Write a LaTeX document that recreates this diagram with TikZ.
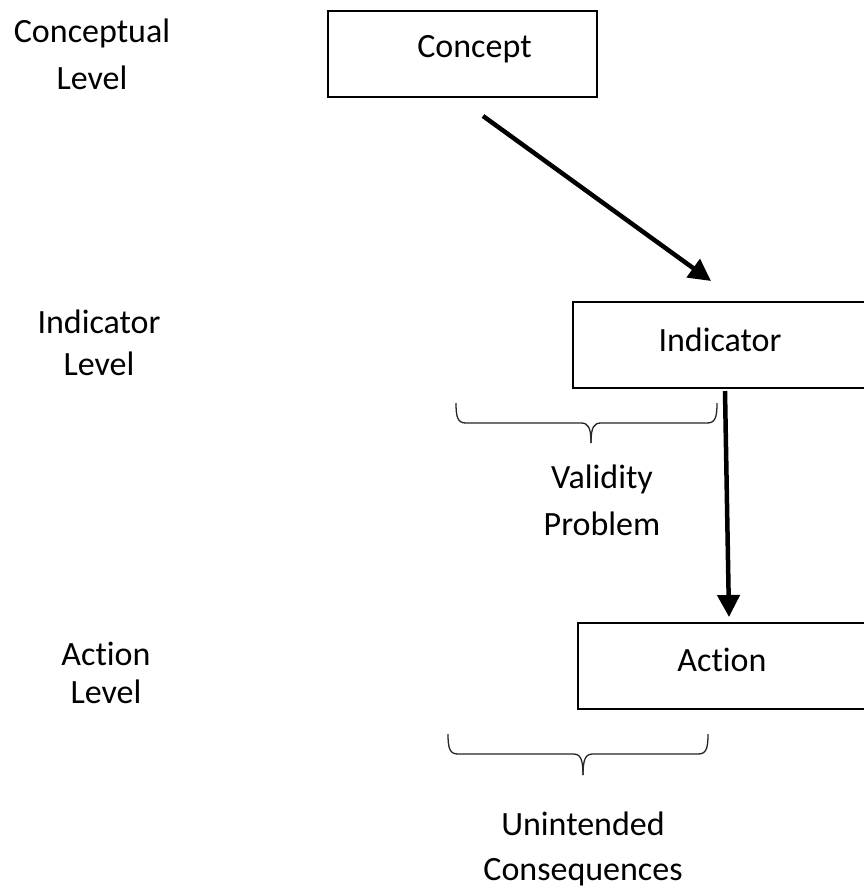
\documentclass[tikz,border=0pt]{standalone}
\usepackage{fontspec}
\setmainfont{Carlito}[Ligatures={NoCommon}]
\usetikzlibrary{arrows.meta}
\begin{document}
\begin{tikzpicture}[x=1pt,y=-1pt,
  box/.style={draw, line width=2.6pt, minimum height=86pt, inner sep=0pt,
    font=\fontsize{34pt}{40pt}\selectfont, text height=24pt},
  lvl/.style={align=center, anchor=base, inner sep=0pt},
  conn/.style={line width=4.5pt, -{Triangle[length=22pt,width=22pt]}},
  brace/.style={line width=1.3pt, draw=black!85}]
\useasboundingbox (0,0) rectangle (864,891);
\fill[white] (0,0) rectangle (864,891);
\begin{scope}
\clip (0,0) rectangle (864,891);
% boxes
\node[box, minimum width=269pt, text depth=16pt] (concept) at (462.5,54) {\hspace*{24pt}Concept};
\node[box, minimum width=294pt, text depth=12pt] (indicator) at (720,345) {Indicator};
\node[box, minimum width=288pt, text depth=14pt] (action) at (722,666) {Action};
% level labels (anchor base = baseline of last line)
\node[lvl, font=\fontsize{34pt}{47pt}\selectfont] (conceptual) at (92,89) {Conceptual\\Level};
\node[lvl, font=\fontsize{34pt}{42pt}\selectfont] (indlevel) at (99,375) {Indicator\\Level};
\node[lvl, font=\fontsize{34pt}{38pt}\selectfont] (actlevel) at (106,703) {Action\\Level};
% brace labels
\node[lvl, font=\fontsize{34pt}{47pt}\selectfont] (validity) at (602,535) {Validity\\Problem};
\node[lvl, font=\fontsize{34pt}{45pt}\selectfont] (unintended) at (583,880) {Unintended\\Consequences};
% connectors
\coordinate (a1s) at (483,116);
\coordinate (a1e) at (711,281);
\coordinate (a2s) at (725,391);
\coordinate (a2e) at (729,617);
\draw[conn] (a1s) -- (a1e);
\draw[conn] (a2s) -- (a2e);
% braces
\draw[brace] (456,403) .. controls (456,418) and (458,423) .. (466,423) -- (581,423) .. controls (588,423) and (591,427) .. (591,443);
\draw[brace] (717,403) .. controls (717,418) and (715,423) .. (707,423) -- (601,423) .. controls (594,423) and (591,427) .. (591,443);
\draw[brace] (448,734) .. controls (448,749) and (450,754) .. (458,754) -- (573,754) .. controls (580,754) and (583,758) .. (583,775);
\draw[brace] (708,734) .. controls (708,749) and (706,754) .. (698,754) -- (593,754) .. controls (586,754) and (583,758) .. (583,775);
\end{scope}
\end{tikzpicture}
\end{document}
